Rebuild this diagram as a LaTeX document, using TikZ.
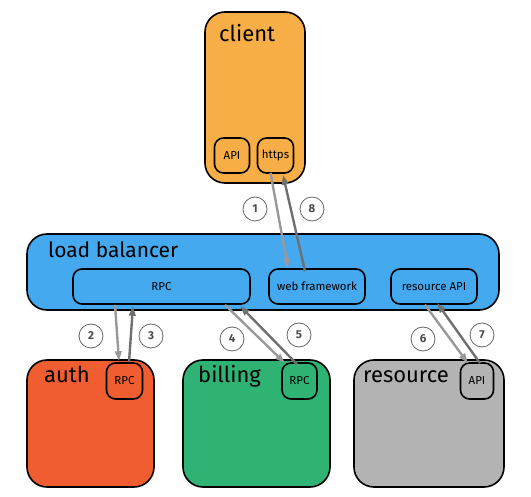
\documentclass[tikz,border=0pt]{standalone}
\usepackage{fontspec}
\setmainfont{Fira Sans}
\usetikzlibrary{arrows.meta,calc}
\definecolor{cOrange}{HTML}{F7AE47}
\definecolor{cBlue}{HTML}{45A9F0}
\definecolor{cRed}{HTML}{EF5D31}
\definecolor{cGreen}{HTML}{2EB374}
\definecolor{cGrey}{HTML}{B3B3B3}
\definecolor{arrLight}{HTML}{999999}
\definecolor{arrDark}{HTML}{707070}
\tikzset{
  bigbox/.style={draw=black, line width=1.6pt, rounded corners=20pt, inner sep=0pt},
  smallbox/.style={draw=black, line width=1.6pt, rounded corners=9pt, inner sep=0pt, font=\fontsize{11.5}{13}\selectfont},
  biglabel/.style={anchor=base west, inner sep=0pt, font=\fontsize{22}{24}\selectfont},
  reqarrow/.style={draw=arrLight, line width=2.4pt, -{Triangle[length=10pt,width=6.5pt]}},
  resarrow/.style={draw=arrDark, line width=2.4pt, -{Triangle[length=10pt,width=6.5pt]}},
  numcirc/.style={circle, draw=black!60, line width=0.8pt, fill=white, minimum size=24pt, inner sep=0pt, text=black!70, font=\bfseries\fontsize{11.5}{13}\selectfont},
}
\begin{document}
\begin{tikzpicture}[x=1pt,y=-1pt]
\useasboundingbox (0,0) rectangle (531,497);
% client
\node[bigbox, fill=cOrange, minimum width=100pt, minimum height=171pt] (client) at (255,97.5) {};
\node[biglabel] (clientlbl) at (219,42) {client};
\node[smallbox, fill=cOrange, minimum width=35pt, minimum height=35pt] (capi) at (232,155.5) {API};
\node[smallbox, fill=cOrange, minimum width=36pt, minimum height=35pt] (https) at (275.5,155.5) {https};
% load balancer
\node[bigbox, fill=cBlue, minimum width=472pt, minimum height=76pt] (lb) at (263,272) {};
\node[biglabel, font=\fontsize{21}{24}\selectfont] (lblbl) at (48,258) {load balancer};
\node[smallbox, fill=cBlue, minimum width=177pt, minimum height=35pt] (rpc) at (161.5,286.5) {RPC};
\node[smallbox, fill=cBlue, minimum width=96pt, minimum height=35pt] (web) at (317,286.5) {web framework};
\node[smallbox, fill=cBlue, minimum width=86pt, minimum height=35pt] (resapi) at (434,286.5) {resource API};
% auth
\node[bigbox, fill=cRed, minimum width=127pt, minimum height=127pt] (auth) at (90.5,423.5) {};
\node[biglabel] (authlbl) at (44,383) {auth};
\node[smallbox, fill=cRed, minimum width=36pt, minimum height=36pt] (authrpc) at (124.5,381) {RPC};
% billing
\node[bigbox, fill=cGreen, minimum width=147pt, minimum height=127pt] (bill) at (256.5,423.5) {};
\node[biglabel] (billlbl) at (198,383) {billing};
\node[smallbox, fill=cGreen, minimum width=35pt, minimum height=36pt] (billrpc) at (299.5,381) {RPC};
% resource
\node[bigbox, fill=cGrey, minimum width=150pt, minimum height=127pt] (res) at (429,423.5) {};
\node[biglabel] (reslbl) at (363,383) {resource};
\node[smallbox, fill=cGrey, minimum width=33pt, minimum height=36pt] (resapib) at (477,381) {API};
% arrows
\draw[reqarrow] ($(https.south)+(-5,-1)$) -- ($(web.north)+(-29,0)$);
\draw[resarrow] ($(web.north)+(-12,3)$) -- ($(https.south)+(7.5,1)$);
\draw[reqarrow] ($(rpc.south)+(-46.5,0)$) -- ($(authrpc.north)+(-5.5,-1)$);
\draw[resarrow] ($(authrpc.north)+(4.5,0)$) -- ($(rpc.south)+(-28.5,1)$);
\draw[reqarrow] ($(rpc.south)+(63.5,0)$) -- ($(billrpc.north)+(-14.5,1)$);
\draw[resarrow] ($(billrpc.north)+(-2.5,2)$) -- ($(rpc.south)+(78.5,1)$);
\draw[reqarrow] ($(resapi.south)+(-9,0)$) -- ($(resapib.north)+(-9,1)$);
\draw[resarrow] ($(resapib.north)+(3,1)$) -- ($(resapi.south)+(3,-2)$);
% numbers
\node[numcirc] (n1) at (255,209) {1};
\node[numcirc] (n8) at (312,209) {8};
\node[numcirc] (n2) at (91,336) {2};
\node[numcirc] (n3) at (151,336) {3};
\node[numcirc] (n4) at (232,339) {4};
\node[numcirc] (n5) at (299,335) {5};
\node[numcirc] (n6) at (423,339) {6};
\node[numcirc] (n7) at (482,335) {7};
\end{tikzpicture}
\end{document}
